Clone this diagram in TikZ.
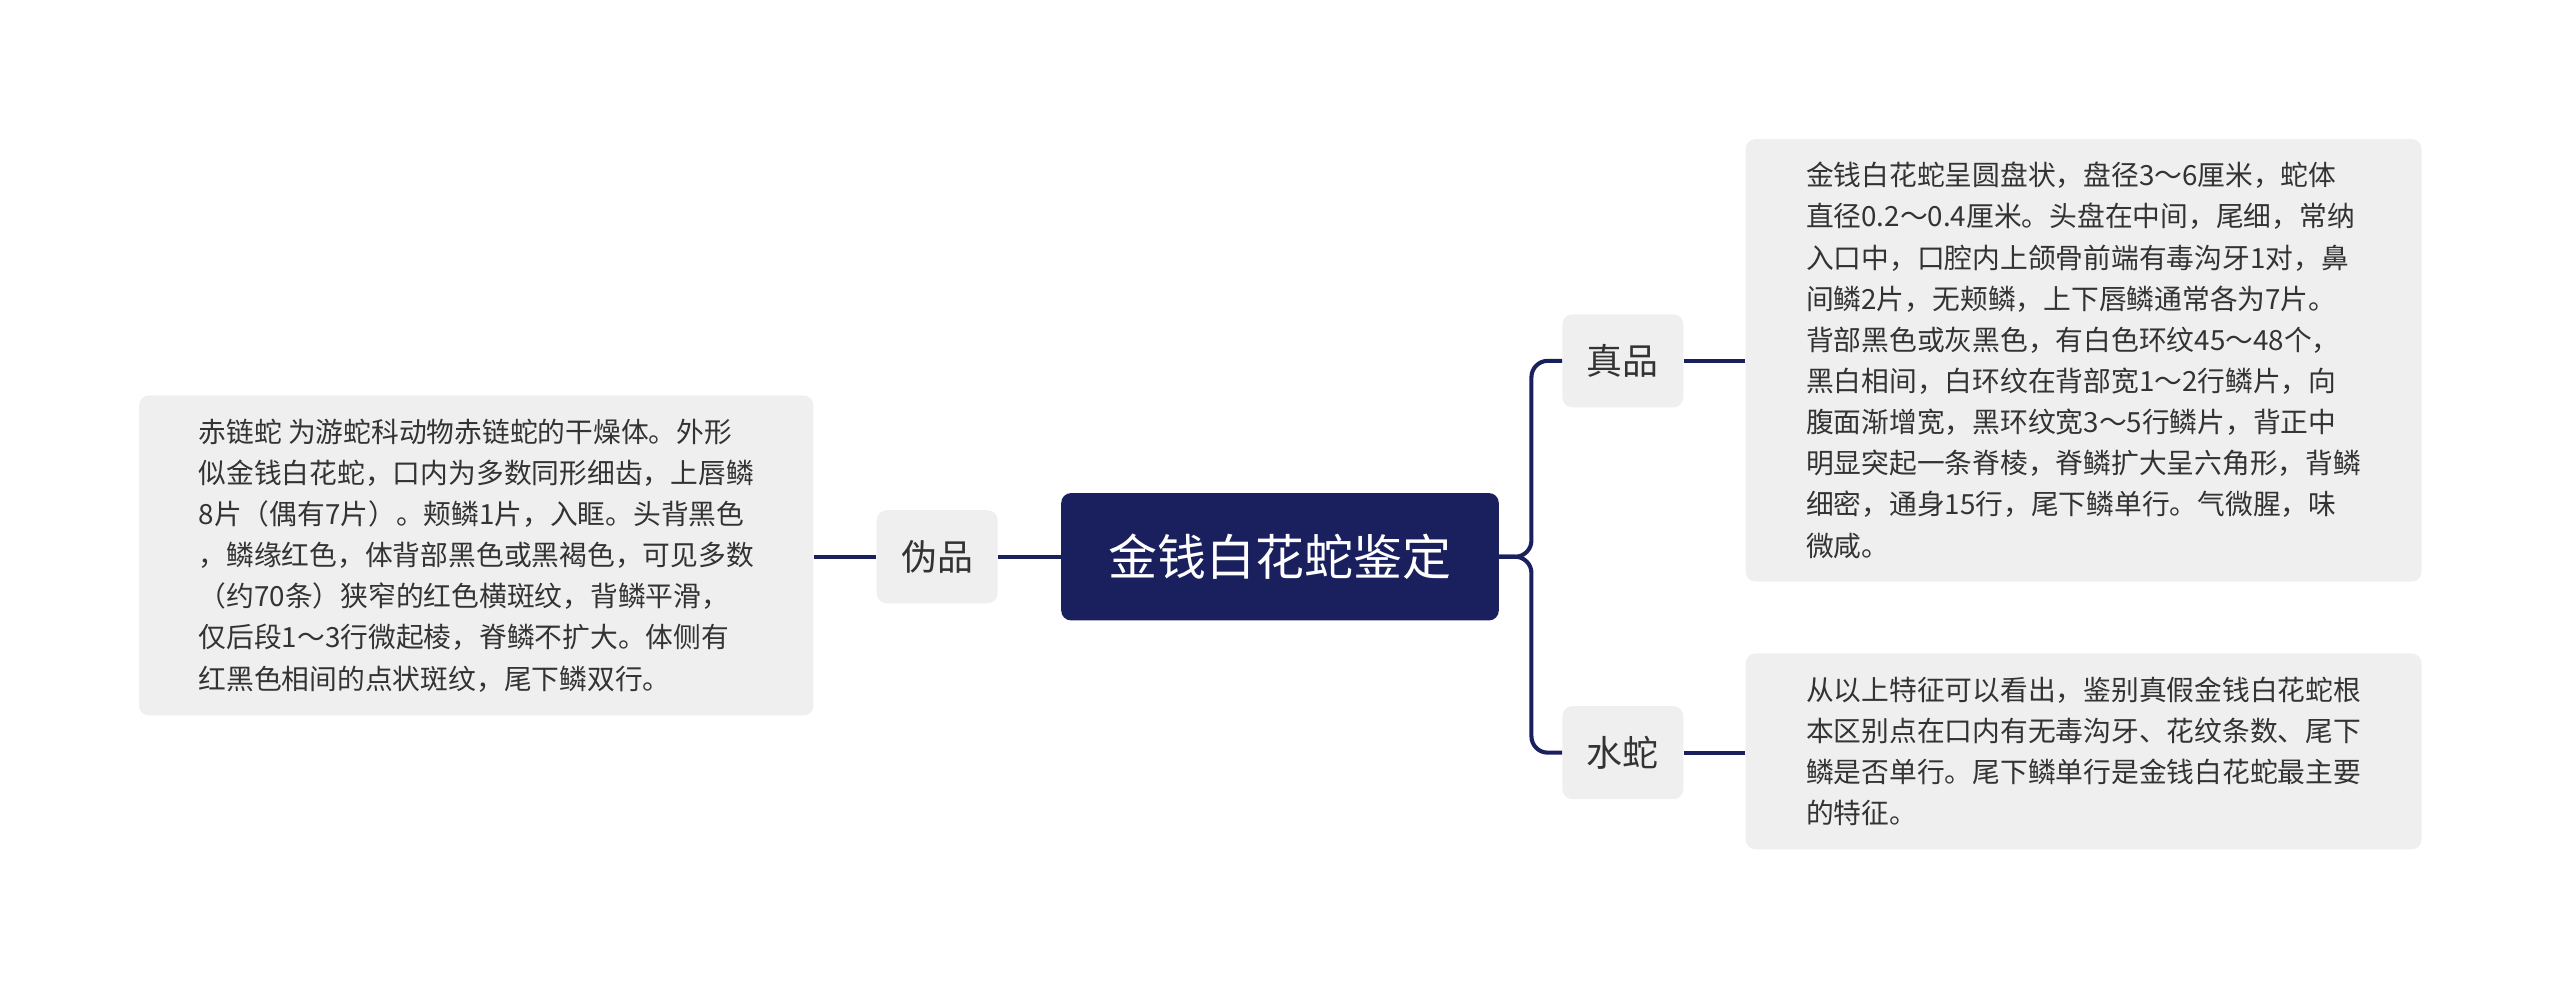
\documentclass[tikz,border=0pt]{standalone}
\usepackage{fontspec}
\setmainfont{Noto Sans CJK SC}
\definecolor{navy}{HTML}{1A1F5E}
\definecolor{boxgray}{HTML}{EFEFEF}
\definecolor{txt}{HTML}{333333}
\begin{document}
\begin{tikzpicture}[x=1pt,y=-1pt,
  topic/.style={fill=boxgray,rounded corners=6pt,text=txt,font=\fontsize{22}{26}\selectfont,minimum width=74pt,minimum height=57pt,inner sep=0pt},
  para/.style={fill=boxgray,rounded corners=6pt,text=txt,font=\fontsize{17}{25.2}\selectfont,align=left,inner xsep=10pt,anchor=north west},
  link/.style={draw=navy,line width=2.5pt,rounded corners=10pt}]
\useasboundingbox (0,0) rectangle (1568,606);
\node[fill=navy,rounded corners=6pt,text=white,font=\fontsize{30}{34}\selectfont,minimum width=268pt,minimum height=78pt,inner sep=0pt] (c) at (784,341) {金钱白花蛇鉴定};
\node[topic] (w) at (574,341) {伪品};
\node[topic] (z) at (994,221) {真品};
\node[topic] (s) at (994,461) {水蛇};
\node[para,minimum width=413pt,minimum height=196pt] (lb) at (85,242) {赤链蛇 为游蛇科动物赤链蛇的干燥体。外形\\似金钱白花蛇，口内为多数同形细齿，上唇鳞\\8片（偶有7片）。颊鳞1片，入眶。头背黑色\\，鳞缘红色，体背部黑色或黑褐色，可见多数\\（约70条）狭窄的红色横斑纹，背鳞平滑，\\仅后段1～3行微起棱，脊鳞不扩大。体侧有\\红黑色相间的点状斑纹，尾下鳞双行。};
\node[para,minimum width=414pt,minimum height=271pt] (rt) at (1069,85) {金钱白花蛇呈圆盘状，盘径3～6厘米，蛇体\\直径0.2～0.4厘米。头盘在中间，尾细，常纳\\入口中，口腔内上颌骨前端有毒沟牙1对，鼻\\间鳞2片，无颊鳞，上下唇鳞通常各为7片。\\背部黑色或灰黑色，有白色环纹45～48个，\\黑白相间，白环纹在背部宽1～2行鳞片，向\\腹面渐增宽，黑环纹宽3～5行鳞片，背正中\\明显突起一条脊棱，脊鳞扩大呈六角形，背鳞\\细密，通身15行，尾下鳞单行。气微腥，味\\微咸。};
\node[para,minimum width=414pt,minimum height=120pt] (rb) at (1069,400) {从以上特征可以看出，鉴别真假金钱白花蛇根\\本区别点在口内有无毒沟牙、花纹条数、尾下\\鳞是否单行。尾下鳞单行是金钱白花蛇最主要\\的特征。};
\draw[link] (c.west) -- (w.east);
\draw[link] (w.west) -- (lb.east |- w.west);
\draw[link] (c.east) -- (938,341) |- (z.west);
\draw[link] (c.east) -- (938,341) |- (s.west);
\draw[link] (z.east) -- (rt.west |- z.east);
\draw[link] (s.east) -- (rb.west |- s.east);
\end{tikzpicture}
\end{document}
